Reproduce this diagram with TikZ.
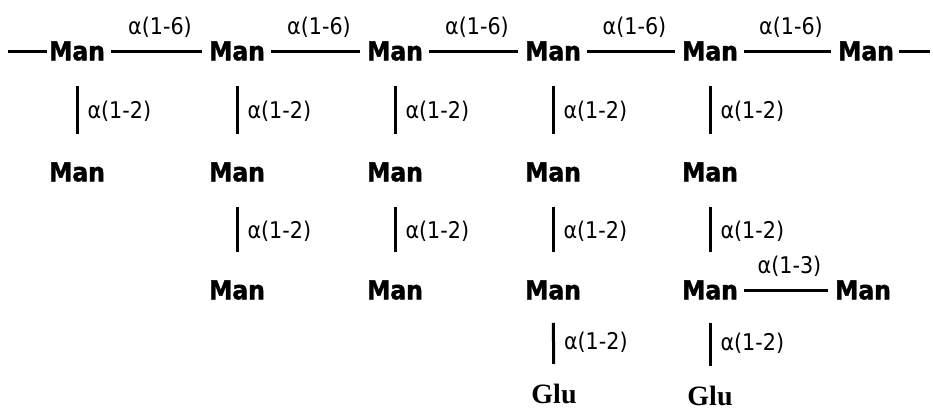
\documentclass[tikz,border=0pt]{standalone}
\usepackage{fontspec}
\usepackage{tikz}

\newfontfamily\condsans{DejaVu Sans Condensed}
\newfontfamily\heavysans{DejaVu Sans Condensed Bold}[FakeBold=1.6]
\newfontfamily\serifbold{Liberation Serif}
\newcommand\manfont{\heavysans\fontsize{26pt}{28pt}\selectfont}
\newcommand\linkfont{\condsans\fontsize{23pt}{25pt}\selectfont}
\newcommand\glufont{\serifbold\bfseries\fontsize{28pt}{30pt}\selectfont}

\tikzset{
    sugar/.style={font=\manfont, inner sep=0pt},
    glucose/.style={font=\glufont, inner sep=0pt},
    bond/.style={line width=3pt},
    hbond/.style={bond, shorten <=6pt, shorten >=7pt},
    vbond/.style={bond, shorten <=25pt, shorten >=28pt},
    gbond/.style={bond, shorten <=23pt, shorten >=20pt},
    hlink/.style={font=\linkfont, inner sep=0pt, above=12pt, xshift=3pt},
    vlink/.style={font=\linkfont, inner sep=0pt, anchor=west, xshift=9pt}
}

\begin{document}
\begin{tikzpicture}[x=1pt, y=-1pt]
    % Frame (pixel grid, y downwards)
    \useasboundingbox (0,0) rectangle (933,410);

    % Backbone: alpha(1-6) chain
    \foreach \x [count=\i] in {77, 237, 395, 553, 710, 866} {
        \node[sugar] (m\i) at (\x, 51) {Man};
    }
    \coordinate (chainin)  at (8, 51);
    \coordinate (chainout) at (930, 51);
    \draw[bond, shorten >=2pt] (chainin) -- (m1);
    \foreach \i [evaluate=\i as \j using int(\i+1)] in {1,...,5} {
        \draw[hbond] (m\i) -- node[hlink] {α(1-6)} (m\j);
    }
    \draw[bond, shorten <=5pt] (m6) -- (chainout);

    % First side residues
    \foreach \i/\x in {1/77, 2/237, 3/395, 4/553, 5/710} {
        \node[sugar] (a\i) at (\x, 172) {Man};
        \draw[vbond] (m\i) -- node[vlink] {α(1-2)} (a\i);
    }

    % Second side residues
    \foreach \i/\x in {2/237, 3/395, 4/553, 5/710} {
        \node[sugar] (b\i) at (\x, 290) {Man};
        \draw[vbond] (a\i) -- node[vlink] {α(1-2)} (b\i);
    }
    \node[sugar] (b6) at (863, 290) {Man};
    \draw[hbond] (b5) -- node[hlink] {α(1-3)} (b6);

    % Terminal glucose
    \node[glucose] (g4) at (554, 394) {Glu};
    \node[glucose] (g5) at (710, 396) {Glu};
    \draw[gbond] (b4) -- node[vlink] {α(1-2)} (g4);
    \draw[gbond] (b5) -- node[vlink] {α(1-2)} (g5);
\end{tikzpicture}
\end{document}
